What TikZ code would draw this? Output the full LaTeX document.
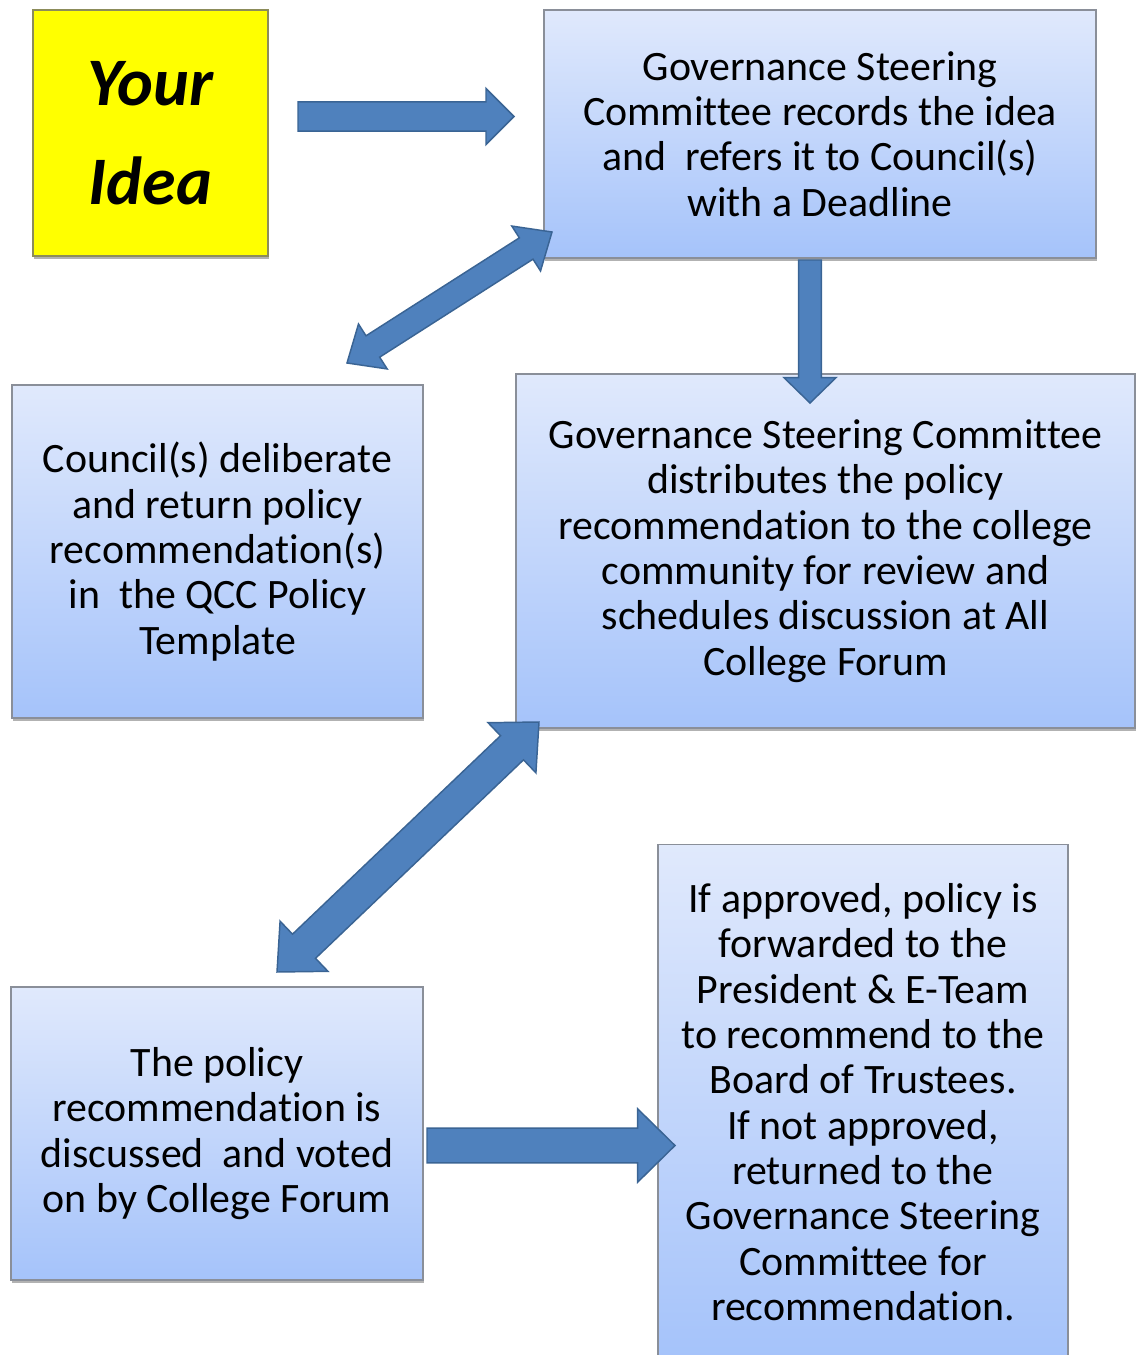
\documentclass[tikz,border=0pt]{standalone}
\usepackage{fontspec}
\setmainfont{Carlito}[Ligatures=CommonOff]
\usetikzlibrary{calc,shadows}
\definecolor{arrfill}{HTML}{4F81BD}
\definecolor{arrline}{HTML}{3A6494}
\definecolor{boxtop}{HTML}{E0E9FC}
\definecolor{boxbot}{HTML}{A5C3FA}
\definecolor{boxline}{HTML}{8A8F99}
\definecolor{ideayellow}{HTML}{FFFF00}
\definecolor{idealine}{HTML}{8C8C5A}
\tikzset{
  flowbox/.style={draw=boxline, line width=1.1pt, top color=boxtop, bottom color=boxbot,
    align=center, inner sep=0pt, font=\fontsize{31.4pt}{34pt}\selectfont,
    drop shadow={shadow xshift=1pt, shadow yshift=-2.5pt, fill=black, opacity=0.3}},
  ideabox/.style={draw=idealine, line width=1pt, fill=ideayellow, align=center, inner sep=0pt,
    font=\fontsize{51pt}{74pt}\selectfont\bfseries\itshape,
    drop shadow={shadow xshift=1pt, shadow yshift=-2.5pt, fill=black, opacity=0.3}},
  blockarrow/.style={draw=arrline, line width=1.1pt, fill=arrfill, line join=miter}
}
% single block arrow: #1 start, #2 tip, #3 shaft half width, #4 head half width, #5 head length
\newcommand\singlearrow[5]{%
  \coordinate (NN) at ($(#2)!#5!(#1)$);
  \draw[blockarrow] ($(#1)!#3!90:(#2)$) -- ($(NN)!#3!90:(#2)$) -- ($(NN)!#4!90:(#2)$) -- (#2)
    -- ($(NN)!#4!-90:(#2)$) -- ($(NN)!#3!-90:(#2)$) -- ($(#1)!#3!-90:(#2)$) -- cycle;}
% double block arrow
\newcommand\doublearrow[5]{%
  \coordinate (NA) at ($(#1)!#5!(#2)$);
  \coordinate (NB) at ($(#2)!#5!(#1)$);
  \draw[blockarrow] (#1) -- ($(NA)!#4!90:(#2)$) -- ($(NA)!#3!90:(#2)$) -- ($(NB)!#3!90:(#2)$)
    -- ($(NB)!#4!90:(#2)$) -- (#2) -- ($(NB)!#4!-90:(#2)$) -- ($(NB)!#3!-90:(#2)$)
    -- ($(NA)!#3!-90:(#2)$) -- ($(NA)!#4!-90:(#2)$) -- cycle;}
\begin{document}
\begin{tikzpicture}[x=0.75pt, y=-0.75pt]
\useasboundingbox (0,0) rectangle (1137,1355);
\clip (0,0) rectangle (1137,1355);

\node[ideabox, minimum width=176.25pt, minimum height=184.5pt] (idea) at (150.5,133) {Your\\Idea};

\node[flowbox, minimum width=414pt, minimum height=186pt] (records) at (820,134)
  {Governance Steering\\Committee records the idea\\and~ refers it to Council(s)\\with a Deadline};

\node[flowbox, minimum width=308.25pt, minimum height=249.75pt] (council) at (217.5,551.5)
  {Council(s) deliberate\\and return policy\\recommendation(s)\\in~ the QCC Policy\\Template};

\node[flowbox, minimum width=464.25pt, minimum height=265.5pt] (distrib) at (825.5,551)
  {Governance Steering Committee\\distributes the policy\\recommendation to the college\\community for review and\\schedules discussion at All\\College Forum};

\node[flowbox, minimum width=309pt, minimum height=219.75pt] (forum) at (217,1133.5)
  {The policy\\recommendation is\\discussed~ and voted\\on by College Forum};

\node[flowbox, minimum width=307.5pt, minimum height=386.25pt, yshift=-1.5pt] (approve) at (863,1100)
  {If approved, policy is\\forwarded to the\\President \& E-Team\\to recommend to the\\Board of Trustees.\\If not approved,\\returned to the\\Governance Steering\\Committee for\\recommendation.};

% connector end points
\coordinate (a1s) at (298,116.5);
\coordinate (a1e) at (514,116.5);
\coordinate (a2s) at (810,260);
\coordinate (a2e) at (810,403);
\coordinate (a3s) at (347,363);
\coordinate (a3e) at (552,232);
\coordinate (a4s) at (277,972);
\coordinate (a4e) at (539,722);
\coordinate (a5s) at (427,1145.5);
\coordinate (a5e) at (675,1145.5);

\singlearrow{a1s}{a1e}{11pt}{21pt}{21pt}
\singlearrow{a2s}{a2e}{8.5pt}{19.5pt}{19pt}
\doublearrow{a3s}{a3e}{9.5pt}{20pt}{23pt}
\doublearrow{a4s}{a4e}{12.5pt}{26pt}{28pt}
\singlearrow{a5s}{a5e}{13pt}{27.5pt}{28pt}
\end{tikzpicture}
\end{document}
